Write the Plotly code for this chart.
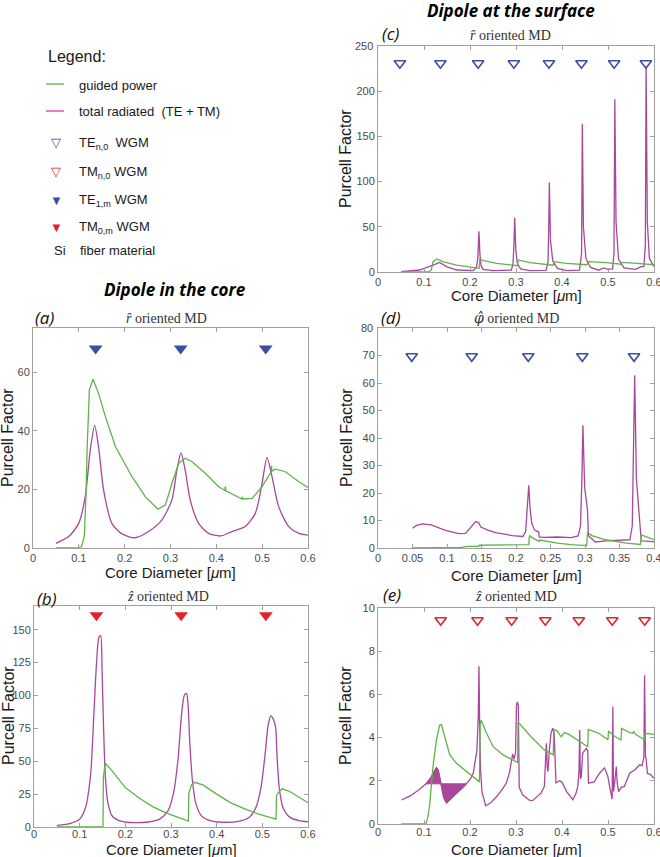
import plotly.graph_objects as go

W, H = 660, 857

# ---------------- DATA ----------------
# Panel (a): dipole in the core, r-hat oriented MD
a_rad_x = [0.05, 0.078, 0.0997, 0.114, 0.125, 0.1345, 0.143, 0.154, 0.172, 0.194, 0.223, 0.252, 0.281, 0.303, 0.314, 0.323,
           0.332, 0.343, 0.3615, 0.383, 0.409, 0.434, 0.463, 0.485, 0.4997, 0.5106, 0.5215, 0.536, 0.558, 0.58, 0.6]
a_rad_y = [1.6, 3.9, 8.4, 17.5, 33.4, 41.8, 34.5, 19.8, 8.4, 4.8, 3.5, 5.6, 9.5, 16.4, 26.6, 32.5,
           26.6, 16.4, 8.4, 5.0, 4.1, 5.6, 7.3, 11.8, 22.0, 30.9, 24.3, 14.1, 7.3, 5.0, 4.4]
a_gui_x = [0.05, 0.096, 0.106, 0.112, 0.116, 0.118, 0.123, 0.131, 0.143, 0.158, 0.18, 0.216, 0.245, 0.2727, 0.289, 0.303,
           0.318, 0.332, 0.347, 0.376, 0.405, 0.419, 0.4195, 0.4205, 0.421, 0.456, 0.4565, 0.457, 0.478, 0.4997, 0.518, 0.52, 0.5205,
           0.521, 0.529, 0.5506, 0.58, 0.6]
a_gui_y = [0.0, 0.0, 0.5, 4.0, 19.8, 33.4, 53.9, 57.5, 52.7, 44.8, 34.5, 24.3, 17.5, 13.2, 14.7, 22.0,
           28.9, 30.6, 29.4, 25.5, 20.9, 19.6, 21.0, 19.5, 19.5, 16.7, 17.5, 16.7, 16.9, 20.9, 25.5, 26.0, 28.0,
           26.2, 26.9, 26.0, 22.6, 20.6]
a_mode_x = [0.1367, 0.3222, 0.5077]
a_mode_y = [68, 68, 68]

# Panel (b): dipole in the core, z-hat oriented MD
b_rad_x = [0.05, 0.08, 0.1, 0.113, 0.124, 0.131, 0.137, 0.142, 0.146, 0.149, 0.152, 0.156, 0.162, 0.172, 0.19, 0.22,
           0.25, 0.275, 0.293, 0.305, 0.315, 0.323, 0.329, 0.334, 0.337, 0.341, 0.347, 0.355, 0.368, 0.39, 0.42,
           0.45, 0.47, 0.485, 0.497, 0.506, 0.513, 0.519, 0.524, 0.529, 0.532, 0.537, 0.545, 0.56, 0.58, 0.6]
b_rad_y = [1.3, 2.8, 6.0, 15, 40, 85, 125, 144, 145.5, 120, 80, 40, 18, 8, 4.5, 3.3,
           3.8, 6.0, 12, 25, 50, 85, 100, 101.5, 95, 65, 35, 17, 8, 4.5, 3.6,
           4.5, 7.0, 14, 30, 55, 78, 84.5, 82, 76, 55, 30, 15, 7.5, 4.8, 3.9]
b_gui_x = [0.05, 0.151, 0.152, 0.156, 0.17, 0.2, 0.23, 0.26, 0.29, 0.31, 0.338, 0.339, 0.345, 0.351, 0.37, 0.4, 0.43,
           0.46, 0.49, 0.53, 0.531, 0.538, 0.544, 0.56, 0.58, 0.6]
b_gui_y = [0.0, 0.0, 38, 48.5, 43, 30, 22, 15.5, 10.5, 8.0, 4.5, 26, 32, 34, 32, 25, 18.5,
           14, 10, 6.0, 24, 27.5, 29, 27, 23, 18.5]
b_mode_x = [0.1367, 0.3222, 0.5077]
b_mode_y = [161, 161, 161]

# Panel (c): dipole at the surface, r-hat oriented MD
c_rad_x = [0.05, 0.09, 0.12, 0.134, 0.149, 0.171, 0.207, 0.214, 0.217, 0.2195, 0.2215, 0.224, 0.2286, 0.25, 0.29,
           0.2935, 0.2955, 0.2972, 0.2995, 0.303, 0.31, 0.33, 0.365, 0.3695, 0.3712, 0.3725, 0.375, 0.38, 0.39,
           0.41, 0.438, 0.4425, 0.4442, 0.4465, 0.452, 0.462, 0.48, 0.49, 0.5, 0.51, 0.513, 0.5148, 0.5175,
           0.523, 0.535, 0.56, 0.572, 0.578, 0.5812, 0.5828, 0.5855, 0.59, 0.6]
c_rad_y = [0.4, 2.2, 7.7, 10.5, 5.9, 2.2, 1.5, 5, 15, 45, 20, 7, 3.0, 1.5, 2.2,
           9, 30, 60, 25, 9, 3.5, 1.5, 1.8, 10, 50, 99, 35, 12, 4,
           1.5, 2.0, 20, 164, 50, 15, 5, 2.0, 4.5, 3.0, 3.5, 20, 191, 55, 14, 4.5, 3.0, 6, 6, 30, 228, 55, 15, 6]
c_gui_x = [0.05, 0.112, 0.116, 0.1195, 0.128, 0.141, 0.171, 0.2, 0.22, 0.2213, 0.23, 0.258, 0.294, 0.303, 0.305, 0.33,
           0.381, 0.383, 0.41, 0.454, 0.4575, 0.497, 0.528, 0.53, 0.563, 0.6]
c_gui_y = [0.0, 0.5, 2.2, 11.4, 14.5, 11.4, 7.7, 5.9, 4.1, 14, 12.5, 9.6, 7.7, 7.0, 13.3, 10.3,
           7.5, 11.4, 9.6, 8.0, 11.4, 10.3, 8.6, 10.7, 9.6, 8.0]
c_mode_x = [0.0476, 0.1357, 0.2177, 0.2954, 0.3717, 0.4423, 0.5134, 0.5824]
c_mode_y = [231, 231, 231, 231, 231, 231, 231, 231]

# Panel (d): dipole at the surface, phi-hat oriented MD
d_rad_x = [0.05, 0.056, 0.064, 0.077, 0.0967, 0.117, 0.127, 0.135, 0.1416, 0.146, 0.149, 0.16, 0.1706, 0.1947,
           0.21, 0.214, 0.2165, 0.2185, 0.2205, 0.2228, 0.227, 0.233, 0.2335, 0.24, 0.26, 0.28, 0.29, 0.2935,
           0.2955, 0.297, 0.2995, 0.302, 0.3035, 0.305, 0.31, 0.315, 0.33, 0.35, 0.365, 0.3685, 0.3705, 0.372,
           0.3745, 0.3775, 0.379, 0.3815, 0.39, 0.4]
d_rad_y = [7.2, 8.2, 8.8, 8.4, 6.5, 5.2, 5.3, 7.8, 9.6, 9.2, 7.6, 6.4, 5.6, 4.5,
           4.2, 6, 14, 22.8, 14, 9, 6.5, 5.8, 4.0, 3.9, 4.0, 3.8, 4.4, 8,
           25, 44.6, 22, 15.5, 14, 4.5, 3.5, 2.2, 2.6, 2.8, 3.0, 8,
           40, 62.8, 25, 14, 12, 2.6, 2.5, 2.2]
d_gui_x = [0.05, 0.12, 0.13, 0.146, 0.147, 0.18, 0.2185, 0.2195, 0.225, 0.2335, 0.2345, 0.26, 0.28, 0.3025, 0.3035,
           0.31, 0.33, 0.36, 0.3805, 0.3815, 0.39, 0.4]
d_gui_y = [0.0, 0.2, 0.6, 0.6, 1.0, 1.0, 1.2, 4.5, 3.5, 2.4, 2.9, 1.8, 1.2, 0.9, 5.6,
           4.5, 3.0, 1.8, 1.3, 4.8, 4.0, 3.0]
d_mode_x = [0.0489, 0.1358, 0.2178, 0.2961, 0.3711]
d_mode_y = [69.7, 69.7, 69.7, 69.7, 69.7]

# Panel (e): dipole at the surface, z-hat oriented MD
e_rad_x = [0.051, 0.07, 0.09, 0.1045, 0.115, 0.122, 0.127, 0.131, 0.135, 0.139, 0.143, 0.149, 0.155, 0.165, 0.175,
           0.185, 0.192, 0.2, 0.207, 0.212, 0.215, 0.218, 0.2195, 0.221, 0.223, 0.226, 0.229, 0.234, 0.245,
           0.258, 0.27, 0.279, 0.286, 0.29, 0.2927, 0.296, 0.299, 0.301, 0.303, 0.305, 0.306, 0.307, 0.3145,
           0.322, 0.329, 0.336, 0.345, 0.3544, 0.3616, 0.3645, 0.366, 0.368, 0.3695, 0.372, 0.376, 0.38, 0.383,
           0.385, 0.387, 0.395, 0.4, 0.41, 0.4235, 0.43, 0.4345, 0.437, 0.4385, 0.44, 0.442, 0.445, 0.4526,
           0.456, 0.4575, 0.47, 0.4816, 0.4925, 0.4997, 0.5034, 0.507, 0.509, 0.5105, 0.512, 0.515, 0.518,
           0.52, 0.523, 0.529, 0.5355, 0.547, 0.558, 0.5688, 0.574, 0.578, 0.5795, 0.5815, 0.583, 0.5856,
           0.592, 0.6]
e_rad_y = [1.11, 1.3, 1.6, 1.86, 2.15, 2.45, 2.61, 2.5, 2.1, 1.6, 1.2, 0.97, 1.1, 1.3, 1.5,
           1.7, 1.86, 2.05, 2.35, 2.9, 3.4, 5.0, 7.3, 4.5, 2.5, 1.5, 1.2, 0.84, 0.98,
           1.27, 1.6, 1.89, 2.4, 2.9, 3.24, 3.0, 3.3, 5.5, 5.65, 5.5, 3.0, 1.7, 1.35,
           1.2, 1.1, 1.08, 1.25, 1.43, 1.74, 3.3, 3.74, 2.6, 2.43, 3.3, 4.2, 4.43, 4.2,
           3.0, 1.9, 2.0, 1.95, 1.5, 1.12, 1.4, 1.74, 2.5, 4.35, 2.1, 2.2, 3.28, 3.5,
           3.4, 1.89, 1.95, 2.35, 2.6, 2.2, 1.74, 1.3, 1.15, 5.43, 1.5, 2.0, 2.66,
           1.9, 1.5, 1.7, 1.74, 2.35, 2.5, 2.74, 2.7, 3.1, 6.89, 3.1, 3.0, 2.35,
           2.3, 2.12]
e_fill_x = [0.1045, 0.115, 0.122, 0.127, 0.131, 0.135, 0.139, 0.143, 0.149, 0.155, 0.165, 0.175, 0.185, 0.192, 0.1045]
e_fill_y = [1.86, 2.15, 2.45, 2.61, 2.5, 2.1, 1.6, 1.2, 0.97, 1.1, 1.3, 1.5, 1.7, 1.86, 1.86]
e_gui_x = [0.051, 0.1045, 0.108, 0.112, 0.1196, 0.127, 0.134, 0.138, 0.145, 0.156, 0.1705, 0.192, 0.214, 0.2205,
           0.222, 0.224, 0.236, 0.2504, 0.272, 0.294, 0.3035, 0.3045, 0.3326, 0.3616, 0.381, 0.382, 0.39, 0.398,
           0.4056, 0.415, 0.4345, 0.456, 0.457, 0.48, 0.5, 0.501, 0.515, 0.5284, 0.5295, 0.545, 0.553, 0.556,
           0.56, 0.5797, 0.581, 0.6]
e_gui_y = [0.0, 0.02, 0.3, 0.81, 2.66, 3.89, 4.58, 4.6, 4.04, 3.2, 2.81, 2.43, 2.04, 1.95,
           4.6, 4.81, 4.2, 3.58, 3.2, 2.97, 2.85, 4.73, 4.04, 3.43, 3.2, 4.38, 4.3, 4.04,
           4.23, 4.15, 3.89, 3.58, 4.38, 4.2, 3.9, 4.3, 4.05, 3.89, 4.43, 4.25, 4.2, 4.28,
           4.15, 3.89, 4.2, 4.15]
e_mode_x = [0.1363, 0.2163, 0.2905, 0.3638, 0.4366, 0.5093, 0.5797]
e_mode_y = [9.43, 9.43, 9.43, 9.43, 9.43, 9.43, 9.43]

# tick labels
ticks_06 = [0, 0.1, 0.2, 0.3, 0.4, 0.5, 0.6]
ticks_06_text = ["0", "0.1", "0.2", "0.3", "0.4", "0.5", "0.6"]
ticks_04 = [0, 0.05, 0.1, 0.15, 0.2, 0.25, 0.3, 0.35, 0.4]
ticks_04_text = ["0", "0.05", "0.1", "0.15", "0.2", "0.25", "0.3", "0.35", "0.4"]
a_yticks = [0, 20, 40, 60]
b_yticks = [0, 25, 50, 75, 100, 125, 150]
c_yticks = [0, 50, 100, 150, 200]
c_ytop = 250
d_yticks = [0, 10, 20, 30, 40, 50, 60, 70]
d_ytop = 80
e_yticks = [0, 2, 4, 6, 8, 10]

# ---------------- STYLE ----------------
GREEN = "#5db548"
MAG = "#a8479c"
BLUE = "#3b4fa0"
RED = "#e2222c"
AXC = "#a0a0a0"
LW = 1.3


def PX(x):
    return x / W


def PY(y):
    return 1 - y / H


fig = go.Figure()

# axis ids: 1=c, 2=a, 3=d, 4=b, 5=e
panels = [
    ("", c_rad_x, c_rad_y, c_gui_x, c_gui_y, c_mode_x, c_mode_y, "triangle-down-open", BLUE, "linear"),
    ("2", a_rad_x, a_rad_y, a_gui_x, a_gui_y, a_mode_x, a_mode_y, "triangle-down", BLUE, "spline"),
    ("3", d_rad_x, d_rad_y, d_gui_x, d_gui_y, d_mode_x, d_mode_y, "triangle-down-open", BLUE, "linear"),
    ("4", b_rad_x, b_rad_y, b_gui_x, b_gui_y, b_mode_x, b_mode_y, "triangle-down", RED, "spline"),
    ("5", e_rad_x, e_rad_y, e_gui_x, e_gui_y, e_mode_x, e_mode_y, "triangle-down-open", RED, "linear"),
]

for sid, rx, ry, gx, gy, mx, my, sym, mcol, shape in panels:
    xa, ya = "x" + sid, "y" + sid
    if sid == "5":
        fig.add_trace(go.Scatter(x=e_fill_x, y=e_fill_y, xaxis=xa, yaxis=ya, mode="lines",
                                 fill="toself", fillcolor=MAG, line=dict(color=MAG, width=1),
                                 showlegend=False, hoverinfo="skip"))
    lkw = dict(shape=shape)
    if shape == "spline":
        lkw["smoothing"] = 0.7
    fig.add_trace(go.Scatter(x=rx, y=ry, xaxis=xa, yaxis=ya, mode="lines",
                             line=dict(color=MAG, width=LW, **lkw), showlegend=False))
    fig.add_trace(go.Scatter(x=gx, y=gy, xaxis=xa, yaxis=ya, mode="lines",
                             line=dict(color=GREEN, width=LW), showlegend=False))
    if "open" in sym:
        mk = dict(symbol=sym, size=10, color=mcol, line=dict(color=mcol, width=1.6))
    else:
        mk = dict(symbol=sym, size=12, color=mcol, line=dict(width=0))
    fig.add_trace(go.Scatter(x=mx, y=my, xaxis=xa, yaxis=ya, mode="markers",
                             marker=mk, showlegend=False))

TICKC = "#4a4a4a"
tickfont = dict(family="Liberation Sans, Arial, sans-serif", size=11, color=TICKC)


def xaxis(dom, rng, tv, tt, anchor, standoff=0):
    return dict(domain=dom, range=rng, tickvals=tv, ticktext=tt, anchor=anchor,
                showline=True, mirror="ticks", linecolor=AXC, linewidth=1,
                ticks="inside", ticklen=4, tickcolor=AXC, showgrid=False, zeroline=False,
                tickfont=tickfont, fixedrange=True, automargin=False, ticklabeloverflow="allow",
                ticklabelstandoff=standoff)


def yaxis(dom, rng, tv, anchor):
    return dict(domain=dom, range=rng, tickvals=tv, ticktext=[str(v) for v in tv],
                anchor=anchor, showline=True, mirror="ticks", linecolor=AXC, linewidth=1,
                ticks="inside", ticklen=4, tickcolor=AXC, showgrid=False, zeroline=False,
                tickfont=tickfont, fixedrange=True, automargin=False, ticklabeloverflow="allow")


LX = [PX(33), PX(308)]
RX = [PX(378), PX(654)]

fig.update_layout(
    width=W, height=H, margin=dict(l=0, r=0, t=0, b=0, pad=0, autoexpand=False),
    paper_bgcolor="white", plot_bgcolor="white",
    xaxis=xaxis(RX, [0, 0.6], ticks_06, ticks_06_text, "y"),
    yaxis=yaxis([PY(272), PY(46)], [0, c_ytop], c_yticks, "x"),
    xaxis2=xaxis(LX, [0, 0.6], ticks_06, ticks_06_text, "y2"),
    yaxis2=yaxis([PY(548), PY(328)], [0, 75], a_yticks, "x2"),
    xaxis3=xaxis(RX, [0, 0.4], ticks_04, ticks_04_text, "y3"),
    yaxis3=yaxis([PY(548), PY(328)], [0, d_ytop], d_yticks, "x3"),
    xaxis4=xaxis([PX(34), PX(308)], [0, 0.6], ticks_06, ticks_06_text, "y4", standoff=-3),
    yaxis4=yaxis([PY(827), PY(606)], [0, 168], b_yticks, "x4"),
    xaxis5=xaxis(RX, [0, 0.6], ticks_06, ticks_06_text, "y5", standoff=-2),
    yaxis5=yaxis([PY(824), PY(608)], [0, 10], e_yticks, "x5"),
)

ann = []
SANS = "Liberation Sans, Arial, sans-serif"
SERIF = "Liberation Serif, DejaVu Serif, serif"


def text(x, y, s, size, family=SANS, color="#1a1a1a", xanchor="center", angle=0, style="normal", weight="normal"):
    ann.append(dict(x=PX(x), y=PY(y), xref="paper", yref="paper", text=s, showarrow=False,
                    xanchor=xanchor, yanchor="middle", textangle=angle,
                    font=dict(family=family, size=size, color=color, style=style, weight=weight)))


# top tick labels of (c) and (d), placed at the top of their y axes
ann.append(dict(x=0, y=c_ytop, xref="x domain", yref="y", text=str(c_ytop), showarrow=False,
                xanchor="right", yanchor="middle", xshift=-3, font=tickfont))
ann.append(dict(x=0, y=d_ytop, xref="x3 domain", yref="y3", text=str(d_ytop), showarrow=False,
                xanchor="right", yanchor="middle", xshift=-3, font=tickfont))

# headers
text(511, 10, "Dipole at the surface", 17, family="Open Sans, sans-serif", style="italic", weight="bold", color="#000")
text(175, 289, "Dipole in the core", 17, family="Open Sans, sans-serif", style="italic", weight="bold", color="#000")

# panel letters
for lab, x, y in [("(a)", 44, 317), ("(b)", 47, 598), ("(c)", 391, 33), ("(d)", 391, 317), ("(e)", 392, 594)]:
    text(x, y, lab, 17, family="Open Sans, sans-serif", style="italic", color="#111")

# panel titles
text(510, 35, "<i>r̂</i> oriented MD", 14, family=SERIF, color="#333")
text(166, 318, "<i>r̂</i> oriented MD", 14, family=SERIF, color="#333")
text(516, 318, "<span style=\"font-family:'DejaVu Serif'\"><i>φ̂</i></span> oriented MD", 14, family=SERIF, color="#333")
text(168, 596, "<i>ẑ</i> oriented MD", 14, family=SERIF, color="#333")
text(516, 596, "<i>ẑ</i> oriented MD", 14, family=SERIF, color="#333")

# axis titles
XT = "Core Diameter [<i>μ</i>m]"
for x, y in [(516, 296), (170, 572), (516, 575), (171, 849), (516, 849)]:
    text(x, y, XT, 15)
for x, y in [(8, 438), (8, 716), (345, 159), (347, 438), (345, 716)]:
    text(x, y, "Purcell Factor", 16, angle=-90)

# legend block
text(46, 57, "Legend:", 16, xanchor="left")
text(77, 85, "guided power", 13, xanchor="left")
text(77, 112, "total radiated  (TE + TM)", 13, xanchor="left")
text(56, 142, "▽", 13, color=BLUE)
text(77, 143, "TE<sub>n,0</sub>  WGM", 13, xanchor="left")
text(56, 172, "▽", 13, color=RED)
text(77, 173, "TM<sub>n,0</sub> WGM", 13, xanchor="left")
text(56, 200, "▼", 13, color=BLUE)
text(77, 200, "TE<sub>1,m</sub> WGM", 13, xanchor="left")
text(56, 227, "▼", 13, color=RED)
text(77, 227, "TM<sub>0,m</sub> WGM", 13, xanchor="left")
text(52, 250, "Si", 13, xanchor="left")
text(78, 250, "fiber material", 13, xanchor="left")

fig.update_layout(annotations=ann, shapes=[
    dict(type="line", xref="paper", yref="paper", x0=PX(46), x1=PX(64), y0=PY(84), y1=PY(84),
         line=dict(color=GREEN, width=1.3)),
    dict(type="line", xref="paper", yref="paper", x0=PX(46), x1=PX(64), y0=PY(111), y1=PY(111),
         line=dict(color="#e0359a", width=1.3)),
])

fig.write_html("out.html", config={"displayModeBar": False, "staticPlot": True},
               post_script="document.body.style.margin='0';document.body.style.padding='0';"
                           "document.documentElement.style.overflow='hidden';")
